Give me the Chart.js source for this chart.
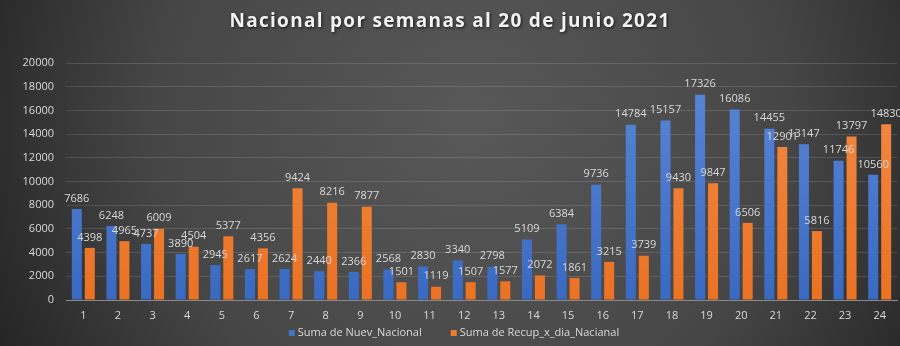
<!DOCTYPE html>
<html>
<head>
<meta charset="utf-8">
<script src="https://cdn.jsdelivr.net/npm/chart.js@4/dist/chart.umd.min.js"></script>
<style>
html,body{margin:0;padding:0;background:#333;}
#wrap{width:900px;height:346px;position:relative;}
</style>
</head>
<body>
<div id="wrap"><canvas id="c" width="900" height="346"></canvas></div>
<script>
const titleText = "Nacional por semanas al 20 de junio 2021";
const weeks = ["1","2","3","4","5","6","7","8","9","10","11","12","13","14","15","16","17","18","19","20","21","22","23","24"];
const nuevNacional = [7686, 6248, 4737, 3890, 2945, 2617, 2624, 2440, 2366, 2568, 2830, 3340, 2798, 5109, 6384, 9736, 14784, 15157, 17326, 16086, 14455, 13147, 11746, 10560];
const recupNacional = [4398, 4965, 6009, 4504, 5377, 4356, 9424, 8216, 7877, 1501, 1119, 1507, 1577, 2072, 1861, 3215, 3739, 9430, 9847, 6506, 12901, 5816, 13797, 14830];
const seriesNames = ["Suma de Nuev_Nacional", "Suma de Recup_x_dia_Nacianal"];
const yTicks = [0, 2000, 4000, 6000, 8000, 10000, 12000, 14000, 16000, 18000, 20000];

const FONT = "'Open Sans', 'Liberation Sans', sans-serif";
const TXT = "#d9d9d9";
const COLORS = ['#4472C4', '#ED7D31'];
const GRAD = [['#5a89d8', '#3a69c2'], ['#f38c48', '#ea7223']];

function barFill(idx) {
  return (ctx) => {
    const ca = ctx.chart.chartArea;
    if (!ca) return COLORS[idx];
    const g = ctx.chart.ctx.createLinearGradient(0, ca.top, 0, ca.bottom);
    g.addColorStop(0, GRAD[idx][0]);
    g.addColorStop(1, GRAD[idx][1]);
    return g;
  };
}

const bgPlugin = {
  id: 'bg',
  beforeDraw(chart) {
    const ctx = chart.ctx;
    const w = chart.width, h = chart.height;
    ctx.save();
    const g = ctx.createRadialGradient(470, 120, 20, 470, 120, 560);
    g.addColorStop(0, '#575757');
    g.addColorStop(0.55, '#464646');
    g.addColorStop(1, '#1f1f1f');
    ctx.fillStyle = g;
    ctx.fillRect(0, 0, w, h);
    ctx.restore();
  }
};

const titlePlugin = {
  id: 'ttl',
  afterDraw(chart) {
    const ctx = chart.ctx;
    ctx.save();
    ctx.font = "bold 19px " + FONT;
    try { ctx.letterSpacing = "1.3px"; } catch(e) {}
    ctx.textAlign = 'center';
    ctx.textBaseline = 'middle';
    ctx.shadowColor = 'rgba(0,0,0,0.7)';
    ctx.shadowBlur = 3;
    ctx.shadowOffsetX = 1;
    ctx.shadowOffsetY = 1;
    ctx.fillStyle = '#f2f2f2';
    ctx.fillText(titleText, 450, 22);
    ctx.restore();
  }
};

const legendPlugin = {
  id: 'customLegend',
  afterDraw(chart) {
    const ctx = chart.ctx;
    ctx.save();
    ctx.font = "11px " + FONT;
    ctx.textBaseline = 'middle';
    ctx.textAlign = 'left';
    const box = 6, gapText = 3, gapItem = 29;
    const widths = chart.data.datasets.map(ds => box + gapText + ctx.measureText(ds.label).width);
    const total = widths.reduce((a, b) => a + b, 0) + gapItem * (widths.length - 1);
    let x = 454 - total / 2;
    const y = 333;
    chart.data.datasets.forEach((ds, i) => {
      ctx.fillStyle = COLORS[i];
      ctx.fillRect(x, y - box / 2, box, box);
      ctx.fillStyle = TXT;
      ctx.fillText(ds.label, x + box + gapText, y);
      x += widths[i] + gapItem;
    });
    ctx.restore();
  }
};

const labelPlugin = {
  id: 'lbl',
  afterDatasetsDraw(chart) {
    const ctx = chart.ctx;
    ctx.save();
    ctx.font = "11px " + FONT;
    ctx.fillStyle = TXT;
    ctx.textAlign = 'center';
    ctx.textBaseline = 'bottom';
    chart.data.datasets.forEach((ds, di) => {
      const meta = chart.getDatasetMeta(di);
      meta.data.forEach((el, i) => {
        ctx.fillText(String(ds.data[i]), el.x, el.y - 5);
      });
    });
    ctx.restore();
  }
};

new Chart(document.getElementById('c'), {
  type: 'bar',
  data: {
    labels: weeks,
    datasets: [
      { label: seriesNames[0], data: nuevNacional, backgroundColor: barFill(0), barPercentage: 0.77, categoryPercentage: 0.75 },
      { label: seriesNames[1], data: recupNacional, backgroundColor: barFill(1), barPercentage: 0.77, categoryPercentage: 0.75 }
    ]
  },
  options: {
    responsive: false,
    animation: false,
    layout: { padding: { top: 63, right: 3, bottom: 22, left: 0 } },
    plugins: {
      title: { display: false },
      tooltip: { enabled: false },
      legend: { display: false }
    },
    scales: {
      x: {
        grid: { display: false, drawTicks: false },
        border: { color: '#8a8a8a', width: 1 },
        ticks: { color: TXT, font: { size: 11, family: FONT }, padding: 9, maxRotation: 0 },
        afterFit(s) { s.height = 24; }
      },
      y: {
        min: 0, max: 20000,
        afterBuildTicks(s) { s.ticks = yTicks.map(v => ({ value: v })); },
        grid: { color: 'rgba(255,255,255,0.13)', drawTicks: false },
        border: { display: false },
        ticks: { color: TXT, font: { size: 11, family: FONT }, padding: 12, callback: v => String(v) },
        afterFit(s) { s.width = 66; }
      }
    }
  },
  plugins: [bgPlugin, labelPlugin, legendPlugin, titlePlugin]
});
</script>
</body>
</html>
